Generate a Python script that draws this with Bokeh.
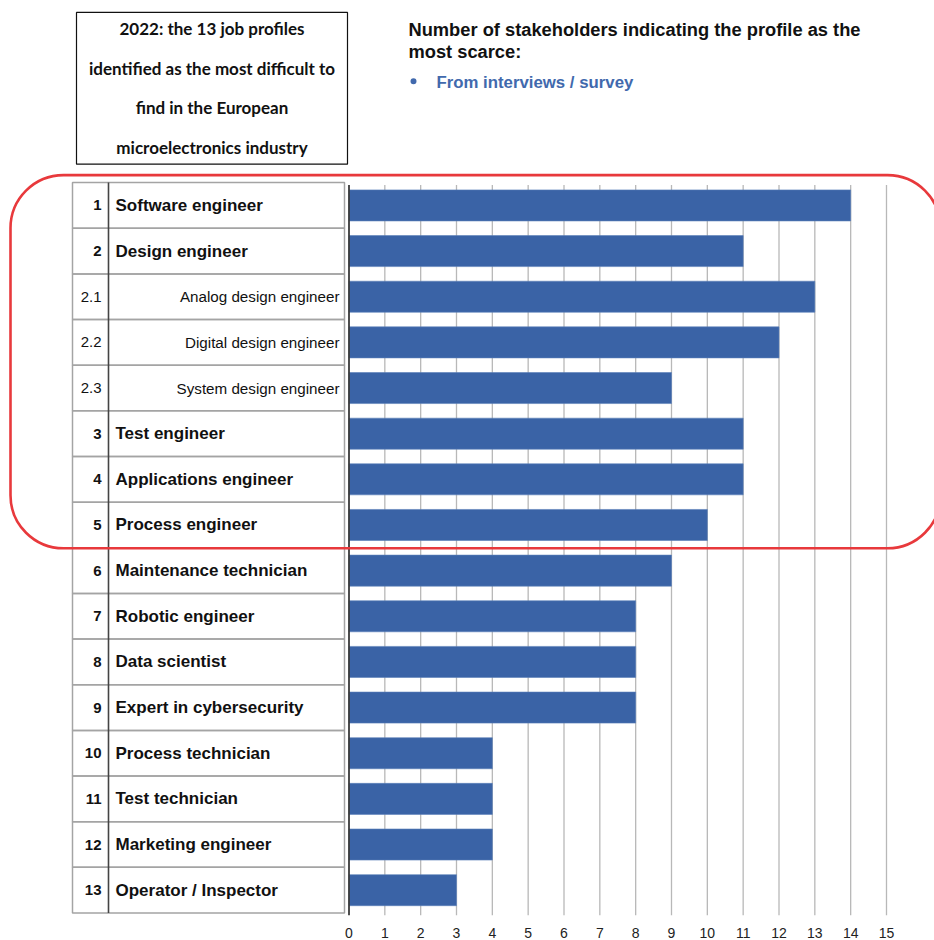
from bokeh.plotting import figure
from bokeh.models import Range1d, FixedTicker
from bokeh.core.properties import value
from bokeh.embed import file_html
from bokeh.resources import INLINE

# ---------------- data ----------------
ranks = ["1", "2", "2.1", "2.2", "2.3", "3", "4", "5", "6", "7", "8", "9", "10", "11", "12", "13"]
profiles = ["Software engineer", "Design engineer", "Analog design engineer", "Digital design engineer",
            "System design engineer", "Test engineer", "Applications engineer", "Process engineer",
            "Maintenance technician", "Robotic engineer", "Data scientist", "Expert in cybersecurity",
            "Process technician", "Test technician", "Marketing engineer", "Operator / Inspector"]
counts = [14, 11, 13, 12, 9, 11, 11, 10, 9, 8, 8, 8, 4, 4, 4, 3]
sub_profile = [False, False, True, True, True, False, False, False,
               False, False, False, False, False, False, False, False]
highlighted_rows = 8
x_ticks = list(range(0, 16))
title_lines = ["2022: the 13 job profiles", "identified as the most difficult to",
               "find in the European", "microelectronics industry"]
header_lines = ["Number of stakeholders indicating the profile as the", "most scarce:"]
legend_label = "From interviews / survey"

# ---------------- layout helpers (page pixels -> data) ----------------
W, H = 934, 940
X0 = 348.5
UX = (886.0 - 348.5) / 15.0
ROW_TOP = 182.5
PITCH = 45.75
FRAME_BOTTOM = 917.0


def X(px):
    return (px - X0) / UX


def Y(py):
    return (py - (ROW_TOP + PITCH / 2.0)) / PITCH


n = len(profiles)
rows = list(range(n))
BLUE = "#3a63a6"
FONT = "Liberation Sans"

p = figure(width=W, height=H,
           x_range=Range1d(X(0), X(W)), y_range=Range1d(Y(FRAME_BOTTOM), Y(0)),
           output_backend="svg", toolbar_location=None, y_axis_location=None,
           min_border_left=0, min_border_right=0, min_border_top=0,
           min_border_bottom=int(H - FRAME_BOTTOM),
           outline_line_color=None)
p.xgrid.visible = False
p.ygrid.visible = False

# grid lines
grid_ticks = [t for t in x_ticks if t > 0]
p.segment(x0=grid_ticks, x1=grid_ticks, y0=[-0.45] * len(grid_ticks),
          y1=[Y(FRAME_BOTTOM)] * len(grid_ticks), line_color="#b8b8b8", line_width=1.3)

# bars
p.hbar(y=rows, left=0, right=counts, height=0.68, fill_color=BLUE,
       line_color="#5b7fb9", line_width=0.6)

# value axis line
p.segment(x0=[0], x1=[0], y0=[-0.45], y1=[Y(FRAME_BOTTOM)], line_color="#3a3a3a", line_width=1.8)

# table
p.quad(left=[X(72)] * n, right=[X(344)] * n, top=[r - 0.5 for r in rows],
       bottom=[r + 0.5 for r in rows], fill_color=None, line_color="#a4a4a4", line_width=1.5)
p.segment(x0=[X(108)], x1=[X(108)], y0=[-0.5], y1=[n - 0.5], line_color="#444444", line_width=1.6)

main_idx = [i for i in rows if not sub_profile[i]]
sub_idx = [i for i in rows if sub_profile[i]]

p.text(x=[X(101)] * len(main_idx), y=main_idx, text=[ranks[i] for i in main_idx],
       text_align="right", text_baseline="middle", text_font=value(FONT),
       text_font_style="bold", text_font_size="15px", text_color="#111111")
p.text(x=[X(101)] * len(sub_idx), y=sub_idx, text=[ranks[i] for i in sub_idx],
       text_align="right", text_baseline="middle", text_font=value(FONT),
       text_font_size="15px", text_color="#111111")
p.text(x=[X(115)] * len(main_idx), y=main_idx, text=[profiles[i] for i in main_idx],
       text_align="left", text_baseline="middle", text_font=value(FONT),
       text_font_style="bold", text_font_size="17px", text_color="#111111")
p.text(x=[X(339)] * len(sub_idx), y=sub_idx, text=[profiles[i] for i in sub_idx],
       text_align="right", text_baseline="middle", text_font=value(FONT),
       text_font_size="15.2px", text_color="#111111")

# title box
p.quad(left=[X(76)], right=[X(347)], top=[Y(12)], bottom=[Y(164)],
       fill_color=None, line_color="#111111", line_width=1.2)
p.text(x=[X(211.5)] * 4, y=[Y(28), Y(68), Y(107.5), Y(147)], text=title_lines,
       text_align="center", text_baseline="middle", text_font=value("Lato"),
       text_font_style="bold", text_font_size="17px", text_color="#111111")

# header
p.text(x=[X(408)] * 2, y=[Y(29.5), Y(51.5)], text=header_lines,
       text_align="left", text_baseline="middle", text_font=value(FONT),
       text_font_style="bold", text_font_size="18.3px", text_color="#111111")
p.scatter(x=[X(413)], y=[Y(81)], size=6, fill_color="#4169ad", line_color=None)
p.text(x=[X(436)], y=[Y(82)], text=[legend_label],
       text_align="left", text_baseline="middle", text_font=value(FONT),
       text_font_style="bold", text_font_size="16.8px", text_color="#4169ad")

# highlight frame around the top profiles
p.quad(left=[X(10)], right=[X(940)], top=[-0.5 - 7.5 / PITCH],
       bottom=[highlighted_rows - 0.5 + 0.5 / PITCH],
       fill_color=None, line_color="#e8393c", line_width=2.6, border_radius=53)

# x axis
p.xaxis.ticker = FixedTicker(ticks=x_ticks)
p.xaxis.axis_line_color = None
p.xaxis.major_tick_line_color = None
p.xaxis.minor_tick_line_color = None
p.xaxis.major_label_standoff = 6
p.xaxis.major_label_text_font = FONT
p.xaxis.major_label_text_font_size = "14px"
p.xaxis.major_label_text_color = "#222222"

open("out.html", "w").write(file_html(p, INLINE))
